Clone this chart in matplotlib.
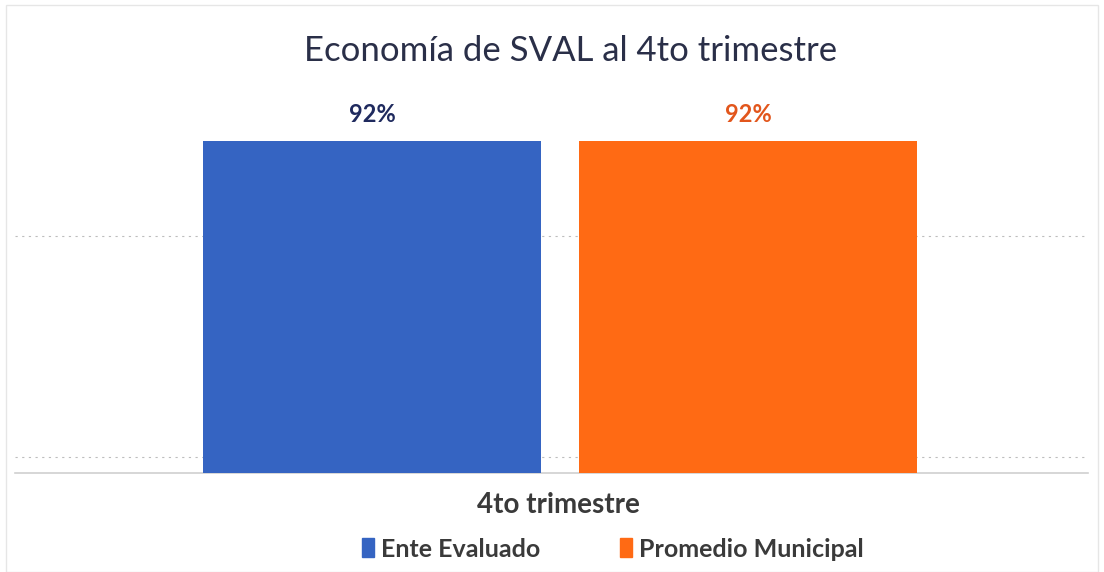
import matplotlib.pyplot as plt
from matplotlib.patches import Rectangle

# datos
categoria = "4to trimestre"
series = ["Ente Evaluado", "Promedio Municipal"]
valores = [0.92, 0.92]
etiquetas = ["92%", "92%"]
colores = ["#3564c2", "#ff6a14"]
colores_texto = ["#1f2a5e", "#e2561c"]

plt.rcParams['font.family'] = ['Lato', 'DejaVu Sans']

fig = plt.figure(figsize=(11.04, 5.72), dpi=100)
ax = fig.add_axes([15 / 1104, 1 - 473 / 572, 1073 / 1104, 361 / 572])

pos = [0, 1]
barras = ax.bar(pos, valores, width=0.9, color=colores, zorder=3)
for x, v, t, c in zip(pos, valores, etiquetas, colores_texto):
    ax.text(x, v + 0.04, t, ha='center', va='bottom', fontsize=17,
            fontweight='bold', color=c)

ax.set_xlim(-0.949, 1.904)
ax.set_ylim(0, 1)
ax.set_yticks([0.044, 0.656])
ax.yaxis.grid(True, linestyle=(0, (2, 4)), color='#bdbdbd', linewidth=0.8, zorder=4)
ax.tick_params(left=False, labelleft=False, bottom=False, labelbottom=False)
for s in ['top', 'right', 'left']:
    ax.spines[s].set_visible(False)
ax.spines['bottom'].set_color('#d0d0d0')
ax.spines['bottom'].set_linewidth(1.2)

ax.text(0.506, -0.09, categoria, transform=ax.transAxes, ha='center', va='center',
        fontsize=20, fontweight='bold', color='#3a3a3a')

fig.text(0.517, 0.91, "Economía de SVAL al 4to trimestre", ha='center', va='center',
         fontsize=25, color='#2a2f48')

handles = [Rectangle((0, 0), 1, 1, color=c) for c in colores]
fig.legend(handles, series, loc='center', bbox_to_anchor=(0.555, 0.04), ncol=2,
           frameon=False, handlelength=0.5, handleheight=0.8, handletextpad=0.25,
           columnspacing=3.2, prop={'size': 18, 'weight': 'bold'},
           labelcolor='#3a3a3a')

# marco
fig.patches.append(Rectangle((6 / 1104, 0), 1 - 12 / 1104, 1 - 5 / 572,
                             transform=fig.transFigure, fill=False,
                             edgecolor='#e6e6e6', linewidth=1))

fig.savefig('out.png', dpi=100)
